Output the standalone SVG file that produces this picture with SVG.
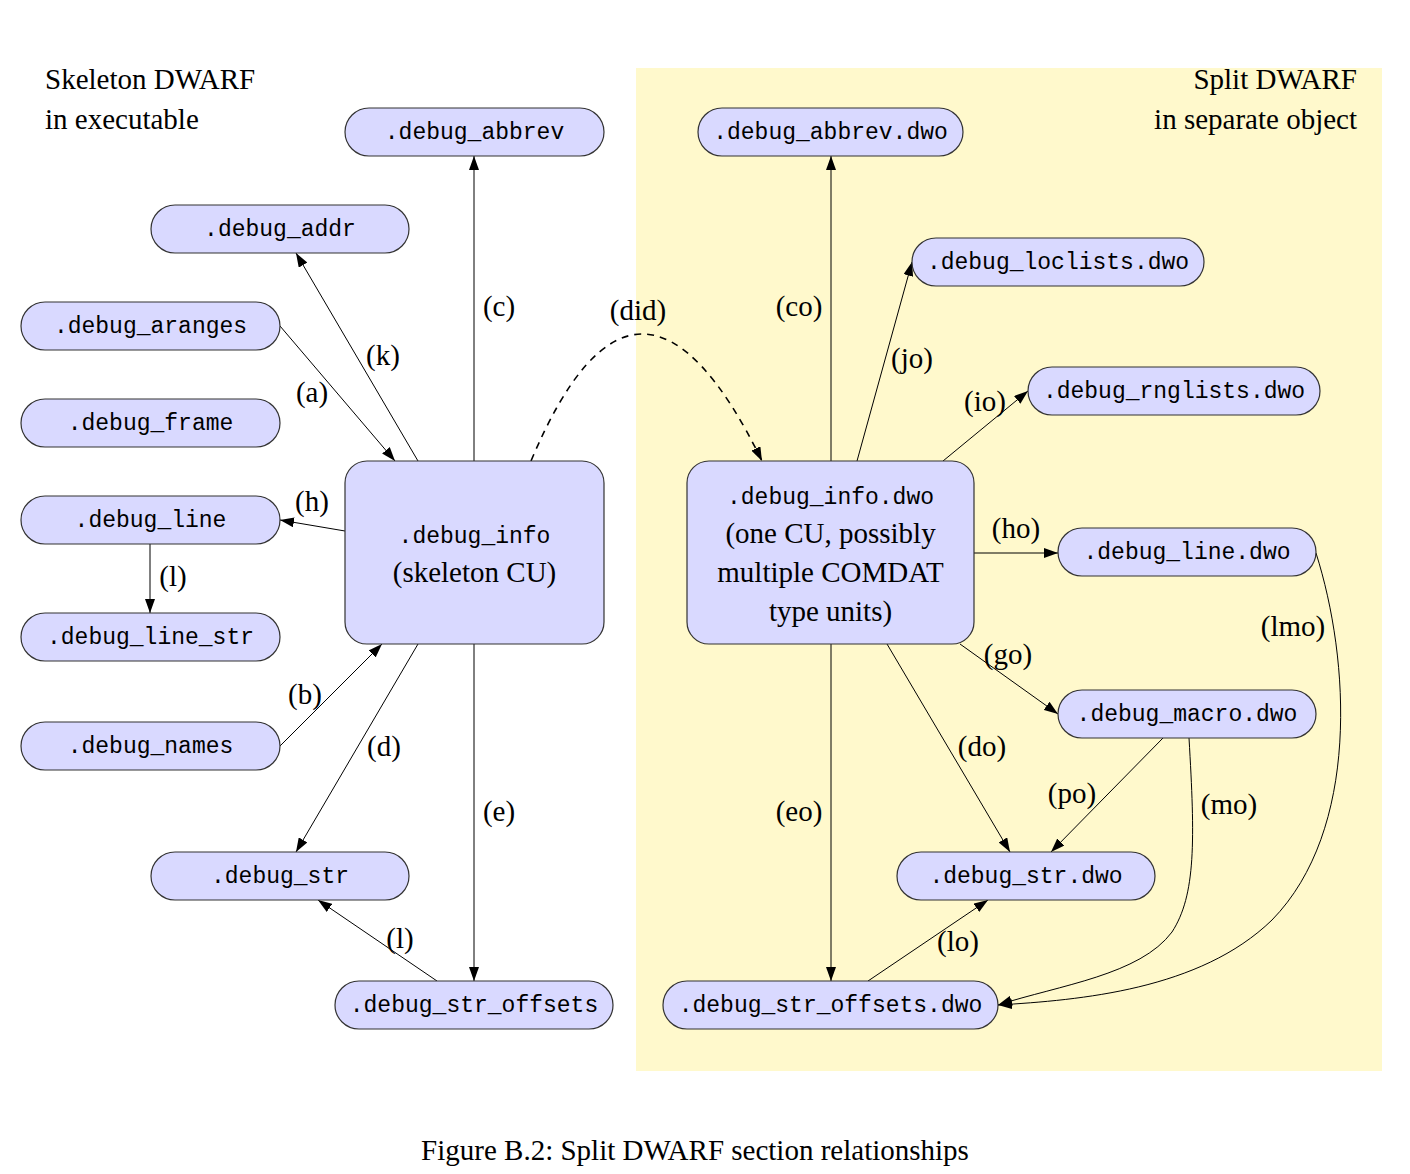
<svg xmlns="http://www.w3.org/2000/svg" width="1410" height="1174" viewBox="0 0 1410 1174">
<style>
.node rect{fill:#d9d9ff;stroke:#333;stroke-width:1.2}
.mono{font-family:"Liberation Mono","DejaVu Sans Mono",monospace;font-size:23px;fill:#000;text-anchor:middle}
.serif{font-family:"Liberation Serif","DejaVu Serif",serif;font-size:29px;fill:#000}
.lbl{font-family:"Liberation Serif","DejaVu Serif",serif;font-size:29px;fill:#000;text-anchor:middle}
.edges path,.edges line{stroke:#000;stroke-width:1;fill:none;marker-end:url(#ah)}
.edges path.dash{stroke-width:1.6;stroke-dasharray:7 6}
</style>
<defs>
<marker id="ah" markerWidth="14" markerHeight="10" refX="14" refY="5" orient="auto" markerUnits="userSpaceOnUse"><path d="M0,0 L14,5 L0,10 z" fill="#000"/></marker>
</defs>
<rect x="0" y="0" width="1410" height="1174" fill="#fff"/>
<rect x="636" y="68" width="746" height="1003" fill="#fff9cc"/>
<text class="serif" x="45" y="89">Skeleton DWARF</text>
<text class="serif" x="45" y="129">in executable</text>
<text class="serif" x="1357" y="89" text-anchor="end">Split DWARF</text>
<text class="serif" x="1357" y="129" text-anchor="end">in separate object</text>

<g class="edges">
<line x1="474" y1="461" x2="474" y2="156"/>
<line x1="418" y1="461" x2="296" y2="253"/>
<line x1="280" y1="326" x2="395" y2="461"/>
<line x1="345" y1="531" x2="280" y2="520"/>
<line x1="150" y1="544" x2="150" y2="613"/>
<line x1="280" y1="746" x2="382" y2="644"/>
<line x1="418" y1="644" x2="296" y2="852"/>
<line x1="474" y1="644" x2="474" y2="981"/>
<line x1="437" y1="981" x2="318" y2="900"/>
<path class="dash" d="M531,461 Q638,207 762,461"/>
<line x1="831" y1="461" x2="831" y2="156"/>
<line x1="857" y1="461" x2="912" y2="262"/>
<line x1="943" y1="461" x2="1028" y2="391"/>
<line x1="974" y1="553" x2="1058" y2="553"/>
<line x1="960" y1="644" x2="1058" y2="714"/>
<line x1="887" y1="644" x2="1010" y2="852"/>
<line x1="1163" y1="738" x2="1051" y2="852"/>
<line x1="831" y1="644" x2="831" y2="981"/>
<line x1="868" y1="981" x2="988" y2="900"/>
<path d="M1189,738 C1195,840 1196,895 1172,932 C1140,975 1060,985 998,1005"/>
<path d="M1316,553 C1350,660 1360,830 1272,920 C1200,990 1080,1000 998,1005"/>
</g>

<g class="labels">
<text class="lbl" x="499" y="316">(c)</text>
<text class="lbl" x="383" y="365">(k)</text>
<text class="lbl" x="312" y="402">(a)</text>
<text class="lbl" x="312" y="511">(h)</text>
<text class="lbl" x="173" y="586">(l)</text>
<text class="lbl" x="305" y="704">(b)</text>
<text class="lbl" x="384" y="756">(d)</text>
<text class="lbl" x="499" y="821">(e)</text>
<text class="lbl" x="400" y="948">(l)</text>
<text class="lbl" x="638" y="320">(did)</text>
<text class="lbl" x="799" y="316">(co)</text>
<text class="lbl" x="912" y="368">(jo)</text>
<text class="lbl" x="985" y="411">(io)</text>
<text class="lbl" x="1016" y="538">(ho)</text>
<text class="lbl" x="1293" y="636">(lmo)</text>
<text class="lbl" x="1008" y="664">(go)</text>
<text class="lbl" x="982" y="756">(do)</text>
<text class="lbl" x="1072" y="803">(po)</text>
<text class="lbl" x="1229" y="814">(mo)</text>
<text class="lbl" x="799" y="821">(eo)</text>
<text class="lbl" x="958" y="951">(lo)</text>
</g>

<g id="n-abbrev" class="node"><rect x="345" y="108" width="259" height="48" rx="24"/><text class="mono" x="474.5" y="139">.debug_abbrev</text></g>
<g id="n-addr" class="node"><rect x="151" y="205" width="258" height="48" rx="24"/><text class="mono" x="280" y="236">.debug_addr</text></g>
<g id="n-aranges" class="node"><rect x="21" y="302" width="259" height="48" rx="24"/><text class="mono" x="150.5" y="333">.debug_aranges</text></g>
<g id="n-frame" class="node"><rect x="21" y="399" width="259" height="48" rx="24"/><text class="mono" x="150.5" y="430">.debug_frame</text></g>
<g id="n-line" class="node"><rect x="21" y="496" width="259" height="48" rx="24"/><text class="mono" x="150.5" y="527">.debug_line</text></g>
<g id="n-line-str" class="node"><rect x="21" y="613" width="259" height="48" rx="24"/><text class="mono" x="150.5" y="644">.debug_line_str</text></g>
<g id="n-names" class="node"><rect x="21" y="722" width="259" height="48" rx="24"/><text class="mono" x="150.5" y="753">.debug_names</text></g>
<g id="n-str" class="node"><rect x="151" y="852" width="258" height="48" rx="24"/><text class="mono" x="280" y="883">.debug_str</text></g>
<g id="n-str-offsets" class="node"><rect x="335" y="981" width="278" height="48" rx="24"/><text class="mono" x="474" y="1012">.debug_str_offsets</text></g>
<g id="n-info" class="node"><rect x="345" y="461" width="259" height="183" rx="22"/><text class="mono" x="474.5" y="543">.debug_info</text><text class="lbl" x="474.5" y="582">(skeleton CU)</text></g>

<g id="n-abbrev-dwo" class="node"><rect x="698" y="108" width="265" height="48" rx="24"/><text class="mono" x="830.5" y="139">.debug_abbrev.dwo</text></g>
<g id="n-loclists-dwo" class="node"><rect x="912" y="238" width="292" height="48" rx="24"/><text class="mono" x="1058" y="269">.debug_loclists.dwo</text></g>
<g id="n-rnglists-dwo" class="node"><rect x="1028" y="367" width="292" height="48" rx="24"/><text class="mono" x="1174" y="398">.debug_rnglists.dwo</text></g>
<g id="n-info-dwo" class="node"><rect x="687" y="461" width="287" height="183" rx="22"/><text class="mono" x="830.5" y="504">.debug_info.dwo</text><text class="lbl" x="830.5" y="543">(one CU, possibly</text><text class="lbl" x="830.5" y="582">multiple COMDAT</text><text class="lbl" x="830.5" y="621">type units)</text></g>
<g id="n-line-dwo" class="node"><rect x="1058" y="528" width="258" height="48" rx="24"/><text class="mono" x="1187" y="559">.debug_line.dwo</text></g>
<g id="n-macro-dwo" class="node"><rect x="1058" y="690" width="258" height="48" rx="24"/><text class="mono" x="1187" y="721">.debug_macro.dwo</text></g>
<g id="n-str-dwo" class="node"><rect x="897" y="852" width="258" height="48" rx="24"/><text class="mono" x="1026" y="883">.debug_str.dwo</text></g>
<g id="n-str-offsets-dwo" class="node"><rect x="663" y="981" width="335" height="48" rx="24"/><text class="mono" x="830.5" y="1012">.debug_str_offsets.dwo</text></g>

<text class="serif" x="695" y="1160" text-anchor="middle">Figure B.2: Split DWARF section relationships</text>
</svg>
